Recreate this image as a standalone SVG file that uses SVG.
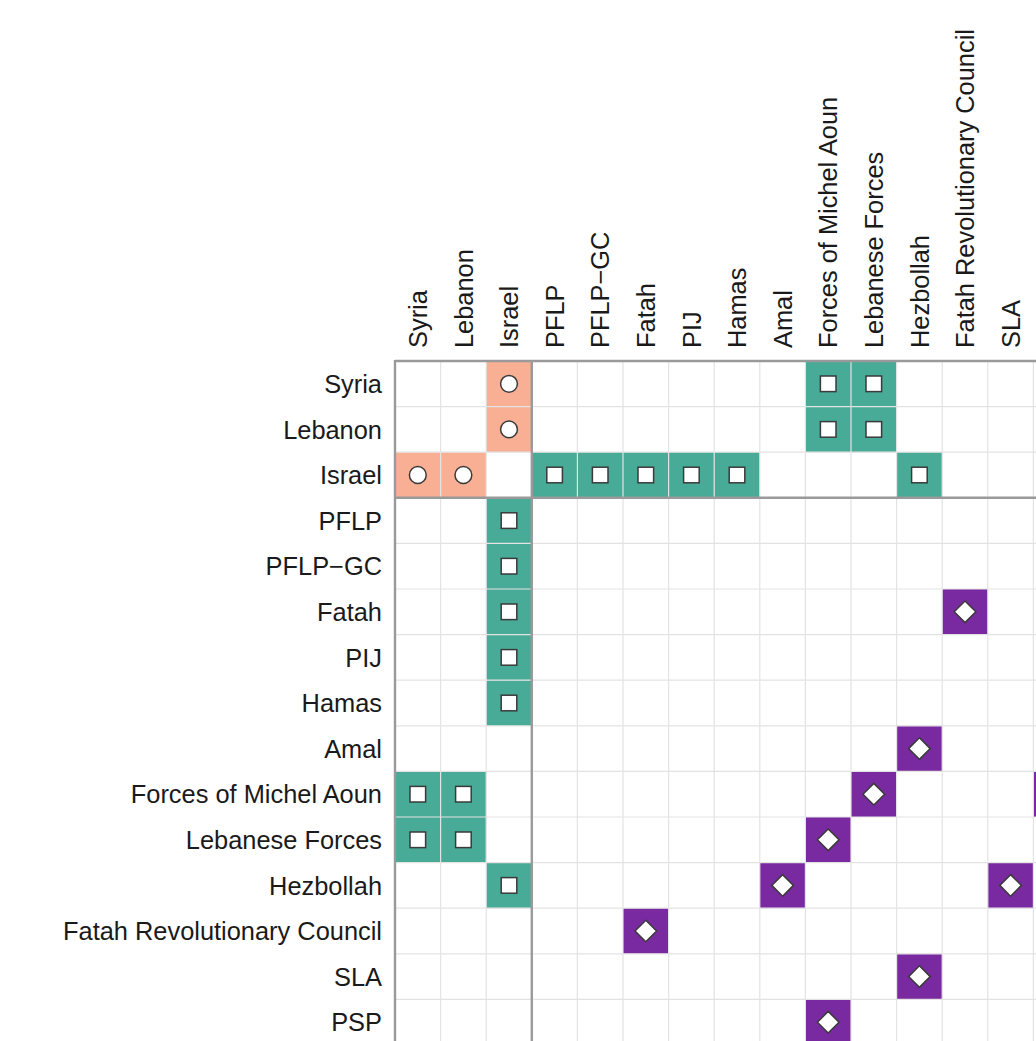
<svg xmlns="http://www.w3.org/2000/svg" xmlns:xlink="http://www.w3.org/1999/xlink" width="1036" height="1041" viewBox="0 0 1036 1041">
<style>
.lbl{font-family:"Liberation Sans",Arial,sans-serif;font-size:25.4px;fill:#1a1a1a}
.row{text-anchor:end}
.sal{fill:#F8AF93}
.teal{fill:#47AB97}
.pur{fill:#7A2AA0}
.grid{stroke:#E3E3E3;stroke-width:1.2;fill:none}
.axis{stroke:#9A9A9A;stroke-width:2.4;fill:none}
.mk{fill:#fff;stroke:#3a3a3a;stroke-width:1.5}
</style>
<defs>
<circle id="circ" class="mk" cx="0" cy="0" r="8.4"/>
<rect id="sq" class="mk" x="-7.8" y="-7.8" width="15.6" height="15.6"/>
<polygon id="dia" class="mk" points="0,-10.8 10.8,0 0,10.8 -10.8,0"/>
</defs>
<rect width="1036" height="1041" fill="#fff"/>

<g id="cells">
<g id="cell-syria-israel"><rect class="sal" x="486.2" y="361" width="45.6" height="45.6"/></g>
<g id="cell-lebanon-israel"><rect class="sal" x="486.2" y="406.6" width="45.6" height="45.6"/></g>
<g id="cell-israel-syria"><rect class="sal" x="395" y="452.2" width="45.6" height="45.6"/></g>
<g id="cell-israel-lebanon"><rect class="sal" x="440.6" y="452.2" width="45.6" height="45.6"/></g>
<g id="cell-syria-fma"><rect class="teal" x="805.4" y="361" width="45.6" height="45.6"/></g>
<g id="cell-syria-lf"><rect class="teal" x="851" y="361" width="45.6" height="45.6"/></g>
<g id="cell-lebanon-fma"><rect class="teal" x="805.4" y="406.6" width="45.6" height="45.6"/></g>
<g id="cell-lebanon-lf"><rect class="teal" x="851" y="406.6" width="45.6" height="45.6"/></g>
<g id="cell-israel-pflp"><rect class="teal" x="531.8" y="452.2" width="45.6" height="45.6"/></g>
<g id="cell-israel-pflpgc"><rect class="teal" x="577.4" y="452.2" width="45.6" height="45.6"/></g>
<g id="cell-israel-fatah"><rect class="teal" x="623" y="452.2" width="45.6" height="45.6"/></g>
<g id="cell-israel-pij"><rect class="teal" x="668.6" y="452.2" width="45.6" height="45.6"/></g>
<g id="cell-israel-hamas"><rect class="teal" x="714.2" y="452.2" width="45.6" height="45.6"/></g>
<g id="cell-israel-hezbollah"><rect class="teal" x="896.6" y="452.2" width="45.6" height="45.6"/></g>
<g id="cell-pflp-israel"><rect class="teal" x="486.2" y="497.8" width="45.6" height="45.6"/></g>
<g id="cell-pflpgc-israel"><rect class="teal" x="486.2" y="543.4" width="45.6" height="45.6"/></g>
<g id="cell-fatah-israel"><rect class="teal" x="486.2" y="589" width="45.6" height="45.6"/></g>
<g id="cell-pij-israel"><rect class="teal" x="486.2" y="634.6" width="45.6" height="45.6"/></g>
<g id="cell-hamas-israel"><rect class="teal" x="486.2" y="680.2" width="45.6" height="45.6"/></g>
<g id="cell-fma-syria"><rect class="teal" x="395" y="771.4" width="45.6" height="45.6"/></g>
<g id="cell-fma-lebanon"><rect class="teal" x="440.6" y="771.4" width="45.6" height="45.6"/></g>
<g id="cell-lf-syria"><rect class="teal" x="395" y="817" width="45.6" height="45.6"/></g>
<g id="cell-lf-lebanon"><rect class="teal" x="440.6" y="817" width="45.6" height="45.6"/></g>
<g id="cell-hezbollah-israel"><rect class="teal" x="486.2" y="862.6" width="45.6" height="45.6"/></g>
<g id="cell-fatah-frc"><rect class="pur" x="942.2" y="589" width="45.6" height="45.6"/></g>
<g id="cell-amal-hezbollah"><rect class="pur" x="896.6" y="725.8" width="45.6" height="45.6"/></g>
<g id="cell-fma-lf"><rect class="pur" x="851" y="771.4" width="45.6" height="45.6"/></g>
<g id="cell-fma-psp"><rect class="pur" x="1033.4" y="771.4" width="45.6" height="45.6"/></g>
<g id="cell-lf-fma"><rect class="pur" x="805.4" y="817" width="45.6" height="45.6"/></g>
<g id="cell-hezbollah-amal"><rect class="pur" x="759.8" y="862.6" width="45.6" height="45.6"/></g>
<g id="cell-hezbollah-sla"><rect class="pur" x="987.8" y="862.6" width="45.6" height="45.6"/></g>
<g id="cell-frc-fatah"><rect class="pur" x="623" y="908.2" width="45.6" height="45.6"/></g>
<g id="cell-sla-hezbollah"><rect class="pur" x="896.6" y="953.8" width="45.6" height="45.6"/></g>
<g id="cell-psp-fma"><rect class="pur" x="805.4" y="999.4" width="45.6" height="45.6"/></g>
</g>

<g id="grid" class="grid">
<path d="M440.6 361V1041M486.2 361V1041M577.4 361V1041M623 361V1041M668.6 361V1041M714.2 361V1041M759.8 361V1041M805.4 361V1041M851 361V1041M896.6 361V1041M942.2 361V1041M987.8 361V1041M1033.4 361V1041"/>
<path d="M395 406.6H1036M395 452.2H1036M395 543.4H1036M395 589H1036M395 634.6H1036M395 680.2H1036M395 725.8H1036M395 771.4H1036M395 817H1036M395 862.6H1036M395 908.2H1036M395 953.8H1036M395 999.4H1036"/>
</g>
<g id="axes" class="axis">
<path d="M395 361H1036M395 497.8H1036M395 360V1041M531.8 361V1041"/>
</g>

<g id="markers">
<use xlink:href="#circ" x="509" y="383.8"/>
<use xlink:href="#circ" x="509" y="429.4"/>
<use xlink:href="#circ" x="417.8" y="475"/>
<use xlink:href="#circ" x="463.4" y="475"/>
<use xlink:href="#sq" x="828.2" y="383.8"/>
<use xlink:href="#sq" x="873.8" y="383.8"/>
<use xlink:href="#sq" x="828.2" y="429.4"/>
<use xlink:href="#sq" x="873.8" y="429.4"/>
<use xlink:href="#sq" x="554.6" y="475"/>
<use xlink:href="#sq" x="600.2" y="475"/>
<use xlink:href="#sq" x="645.8" y="475"/>
<use xlink:href="#sq" x="691.4" y="475"/>
<use xlink:href="#sq" x="737" y="475"/>
<use xlink:href="#sq" x="919.4" y="475"/>
<use xlink:href="#sq" x="509" y="520.6"/>
<use xlink:href="#sq" x="509" y="566.2"/>
<use xlink:href="#sq" x="509" y="611.8"/>
<use xlink:href="#sq" x="509" y="657.4"/>
<use xlink:href="#sq" x="509" y="703"/>
<use xlink:href="#sq" x="417.8" y="794.2"/>
<use xlink:href="#sq" x="463.4" y="794.2"/>
<use xlink:href="#sq" x="417.8" y="839.8"/>
<use xlink:href="#sq" x="463.4" y="839.8"/>
<use xlink:href="#sq" x="509" y="885.4"/>
<use xlink:href="#dia" x="965" y="611.8"/>
<use xlink:href="#dia" x="919.4" y="748.6"/>
<use xlink:href="#dia" x="873.8" y="794.2"/>
<use xlink:href="#dia" x="828.2" y="839.8"/>
<use xlink:href="#dia" x="782.6" y="885.4"/>
<use xlink:href="#dia" x="1010.6" y="885.4"/>
<use xlink:href="#dia" x="645.8" y="931"/>
<use xlink:href="#dia" x="919.4" y="976.6"/>
<use xlink:href="#dia" x="828.2" y="1022.2"/>
</g>

<g id="row-labels" class="lbl row">
<text x="382" y="393">Syria</text>
<text x="382" y="438.6">Lebanon</text>
<text x="382" y="484.2">Israel</text>
<text x="382" y="529.8">PFLP</text>
<text x="382" y="575.4">PFLP−GC</text>
<text x="382" y="621">Fatah</text>
<text x="382" y="666.6">PIJ</text>
<text x="382" y="712.2">Hamas</text>
<text x="382" y="757.8">Amal</text>
<text x="382" y="803.4">Forces of Michel Aoun</text>
<text x="382" y="849">Lebanese Forces</text>
<text x="382" y="894.6">Hezbollah</text>
<text x="382" y="940.2">Fatah Revolutionary Council</text>
<text x="382" y="985.8">SLA</text>
<text x="382" y="1031.4">PSP</text>
</g>

<g id="col-labels" class="lbl">
<text transform="translate(427 348) rotate(-90)">Syria</text>
<text transform="translate(472.6 348) rotate(-90)">Lebanon</text>
<text transform="translate(518.2 348) rotate(-90)">Israel</text>
<text transform="translate(563.8 348) rotate(-90)">PFLP</text>
<text transform="translate(609.4 348) rotate(-90)">PFLP−GC</text>
<text transform="translate(655 348) rotate(-90)">Fatah</text>
<text transform="translate(700.6 348) rotate(-90)">PIJ</text>
<text transform="translate(746.2 348) rotate(-90)">Hamas</text>
<text transform="translate(791.8 348) rotate(-90)">Amal</text>
<text transform="translate(837.4 348) rotate(-90)">Forces of Michel Aoun</text>
<text transform="translate(883 348) rotate(-90)">Lebanese Forces</text>
<text transform="translate(928.6 348) rotate(-90)">Hezbollah</text>
<text transform="translate(974.2 348) rotate(-90)">Fatah Revolutionary Council</text>
<text transform="translate(1019.8 348) rotate(-90)">SLA</text>
</g>
</svg>
